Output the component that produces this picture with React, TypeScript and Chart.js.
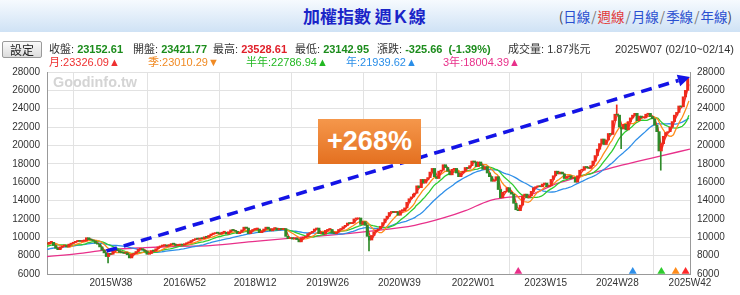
import React, { useEffect, useRef } from "react";
import { Chart, registerables } from "chart.js";

Chart.register(...registerables);

// ---- DATA: biweekly closes, entry j = ISO week 2j+1 of that year ----
const close2013 = [7800, 7850, 7900, 7950, 7950, 7950, 7900, 7700, 7950, 8200, 8250, 8050, 7800, 8000, 8150, 8100, 8050, 7950, 8150, 8200, 8350, 8400, 8200, 8300, 8300, 8450];
const close2014 = [8600, 8600, 8450, 8500, 8650, 8700, 8850, 8900, 8800, 8950, 9000, 9100, 9200, 9400, 9500, 9350, 9250, 9450, 9450, 9100, 8800, 8650, 8950, 9050, 9100, 8950];
const close2015 = [9250, 9350, 9450, 9550, 9650, 9550, 9600, 9600, 9950, 9750, 9700, 9600, 9350, 9250, 8950, 8600, 8300, 7900, 8250, 8150, 8500, 8600, 8550, 8350, 8300, 8250, 8300];
const close2016 = [8100, 7750, 8150, 8250, 8450, 8700, 8750, 8600, 8450, 8150, 8250, 8550, 8500, 8750, 8950, 9050, 9100, 9100, 9050, 9200, 9300, 9250, 9100, 9150, 9250, 9150];
const close2017 = [9300, 9400, 9450, 9650, 9750, 9850, 9800, 9900, 9850, 10050, 10000, 10200, 10350, 10400, 10500, 10450, 10350, 10550, 10550, 10350, 10600, 10800, 10750, 10650, 10400, 10550];
const close2018 = [10800, 11100, 11000, 10400, 10700, 10850, 10900, 10900, 10500, 10650, 10900, 11100, 10900, 10700, 10950, 11000, 10800, 10950, 10850, 10950, 10100, 9850, 9950, 9800, 9900, 9750];
const close2019 = [9500, 9900, 10000, 10100, 10400, 10500, 10650, 10900, 11000, 10400, 10550, 10350, 10750, 10850, 10850, 10450, 10400, 10550, 10850, 10900, 11150, 11300, 11550, 11500, 11550, 12000];
const close2020 = [12000, 12100, 11400, 11700, 11300, 10100, 9700, 10200, 10600, 10800, 10900, 11200, 11600, 12000, 12300, 12700, 12800, 12700, 12800, 12400, 12900, 12900, 13200, 13800, 14200, 14400, 14700];
const close2021 = [14800, 15600, 15400, 16300, 15900, 16300, 16500, 17100, 17500, 16600, 16400, 17200, 17300, 17900, 17600, 17200, 16800, 17400, 17500, 17000, 16600, 17000, 17200, 17600, 17500, 17800];
const close2022 = [18300, 18200, 17700, 18200, 17800, 17400, 17700, 17000, 16600, 16100, 16200, 16600, 15200, 14300, 14900, 15000, 15400, 14900, 14700, 13700, 13000, 12900, 13500, 14500, 14700, 14300];
const close2023 = [14500, 15000, 15400, 15500, 15600, 15500, 15800, 15900, 15500, 15600, 16300, 16700, 17200, 16900, 17100, 16900, 16400, 16600, 16700, 16400, 16500, 16000, 16700, 17300, 17300, 17700];
const close2024 = [17600, 17500, 17800, 18300, 18900, 19600, 20200, 20700, 20100, 20600, 21300, 21200, 22700, 23400, 23300, 22000, 21800, 22300, 21700, 22600, 23000, 23300, 23500, 22700, 23200, 23000];
const close2025 = [23000, 23400, 23500, 23150, 22900, 22200, 21500, 19400, 20200, 21000, 21400, 21500, 22000, 22600, 23300, 23600, 24300, 24200, 25300, 26000, 27300];

const closeByYear: Array<[number, number[]]> = [
  [2013, close2013], [2014, close2014], [2015, close2015], [2016, close2016],
  [2017, close2017], [2018, close2018], [2019, close2019], [2020, close2020],
  [2021, close2021], [2022, close2022], [2023, close2023], [2024, close2024],
  [2025, close2025],
];

// notable weekly wicks
const spikeWeeks = ["2015W35", "2020W12", "2024W28", "2024W32", "2025W15"];
const spikeValues = [7203, 8523, 24416, 19662, 17306];

// 3-year moving average
const ma3yWeeks = ["2014W32", "2015W08", "2015W33", "2016W16", "2016W46", "2017W23", "2018W12", "2018W45", "2019W26", "2020W11", "2020W53", "2021W26", "2021W46", "2022W16", "2022W30", "2022W51", "2023W25", "2024W27", "2025W11", "2025W42"];
const ma3yValues = [7900, 8220, 8600, 8870, 9020, 9100, 9550, 9900, 10200, 10650, 11300, 12100, 12900, 14000, 14320, 14570, 15840, 17700, 18740, 19600];

const xTickLabels = ["2015W38", "2016W52", "2018W12", "2019W26", "2020W39", "2022W01", "2023W15", "2024W28", "2025W42"];
const firstWeek = "2014W32";
const lastWeek = "2025W42";
const maWindowWeeks = [4, 13, 26, 52, 156];

const arrowFromWeek = "2015W34";
const arrowFromValue = 8500;
const arrowToWeek = "2025W42";
const arrowToValue = 27450;

const statLabels = ["收盤:", "開盤:", "最高:", "最低:", "漲跌:", "成交量:"];
const statValues = ["23152.61", "23421.77", "23528.61", "23142.95", "-325.66", "1.87兆元"];
const changePct = "(-1.39%)";
const weekText = "2025W07 (02/10~02/14)";
const maNames = ["月", "季", "半年", "年", "3年"];
const maValues = ["23326.09", "23010.29", "22786.94", "21939.62", "18004.39"];
const maArrows = ["▲", "▼", "▲", "▲", "▲"];
const navItems = ["日線", "週線", "月線", "季線", "年線"];

// ---- styles / layout ----
const UP = "#ee2a1c";
const DOWN = "#2f8a2a";
const MA_COLORS = ["#ff2a2a", "#ff8c1a", "#2ecc2e", "#2f8fe8", "#e8308a"];
const MA_TEXT_COLORS = ["#ee3030", "#f08a24", "#22b822", "#2a8ee8", "#e8308a"];
const STAT_COLORS = ["#1c8c1c", "#1c8c1c", "#e0202a", "#1c8c1c", "#1c8c1c", "#333"];
const STAT_X = [49, 133, 213, 295, 377, 508];
const MA_X = [49, 148, 246, 346, 443];
const MARKER_Y = 6270;
const LATIN = '"Liberation Sans", Arial, "Noto Sans CJK TC", sans-serif';
const CJK = '"Noto Sans CJK TC", "Liberation Sans", sans-serif';

const weeksIn = (y: number) => (y === 2015 || y === 2020 ? 53 : 52);
function weekIndex(y: number, w: number) {
  let idx = w - 32;
  for (let k = 2014; k < y; k++) idx += weeksIn(k);
  for (let k = y; k < 2014; k++) idx -= weeksIn(k);
  return idx;
}
const parseWeek = (s: string) => {
  const [y, w] = s.split("W").map(Number);
  return weekIndex(y, w);
};

function buildSeries() {
  const pts: { x: number; c: number }[] = [];
  closeByYear.forEach(([y, arr]) => arr.forEach((c, j) => pts.push({ x: weekIndex(y, 2 * j + 1), c })));
  const candles: any[] = [];
  const colors: string[] = [];
  for (let i = 1; i < pts.length; i++) {
    candles.push({ x: pts[i].x, y: [pts[i - 1].c, pts[i].c] });
    colors.push(pts[i].c >= pts[i - 1].c ? UP : DOWN);
  }
  const ma = (n: number) => {
    const out: any[] = [];
    for (let i = n - 1; i < pts.length; i++) {
      let s = 0;
      for (let k = i - n + 1; k <= i; k++) s += pts[k].c;
      out.push({ x: pts[i].x, y: s / n });
    }
    return out;
  };
  const spikes: any[] = [];
  const spikeColors: string[] = [];
  spikeWeeks.forEach((w, i) => {
    const xi = parseWeek(w);
    let best = 1;
    for (let k = 1; k < pts.length; k++) if (Math.abs(pts[k].x - xi) < Math.abs(pts[best].x - xi)) best = k;
    spikes.push({ x: pts[best].x, y: [spikeValues[i], pts[best].c] });
    spikeColors.push(pts[best].c >= pts[best - 1].c ? UP : DOWN);
  });
  return { candles, colors, spikes, spikeColors, ma };
}

const arrowPlugin = {
  id: "bigArrow",
  afterDatasetsDraw(chart: any) {
    const { ctx, scales } = chart;
    const x0 = scales.x.getPixelForValue(parseWeek(arrowFromWeek));
    const y0 = scales.y.getPixelForValue(arrowFromValue);
    const x1 = scales.x.getPixelForValue(parseWeek(arrowToWeek));
    const y1 = scales.y.getPixelForValue(arrowToValue);
    const ang = Math.atan2(y1 - y0, x1 - x0);
    const head = 12;
    const xb = x1 - head * Math.cos(ang);
    const yb = y1 - head * Math.sin(ang);
    ctx.save();
    ctx.strokeStyle = "#1414e6";
    ctx.fillStyle = "#1414e6";
    ctx.lineWidth = 3.6;
    ctx.setLineDash([11, 7]);
    ctx.beginPath();
    ctx.moveTo(x0, y0);
    ctx.lineTo(xb, yb);
    ctx.stroke();
    ctx.setLineDash([]);
    ctx.beginPath();
    ctx.moveTo(x1, y1);
    ctx.lineTo(xb + 6 * Math.sin(ang), yb - 6 * Math.cos(ang));
    ctx.lineTo(xb - 6 * Math.sin(ang), yb + 6 * Math.cos(ang));
    ctx.closePath();
    ctx.fill();
    ctx.restore();
  },
};

export default function App() {
  const ref = useRef<HTMLCanvasElement>(null);
  useEffect(() => {
    const { candles, colors, spikes, spikeColors, ma } = buildSeries();
    const last = parseWeek(lastWeek);
    const tickFont = { family: LATIN, size: 10 };
    const lineDs = (data: any[], color: string, order: number) => ({
      type: "line",
      data,
      borderColor: color,
      borderWidth: 1.3,
      pointRadius: 0,
      fill: false,
      order,
    });
    const plainTick = (v: any) => String(v);
    const chart = new Chart(ref.current as HTMLCanvasElement, {
      type: "bar",
      data: {
        datasets: [
          { type: "bar", data: candles, backgroundColor: colors, barThickness: 2.4, minBarLength: 1, borderWidth: 0, order: 1 },
          { type: "bar", data: spikes, backgroundColor: spikeColors, barThickness: 1, borderWidth: 0, order: 1 },
          lineDs(ma(2), MA_COLORS[0], 2),
          lineDs(ma(7), MA_COLORS[1], 3),
          lineDs(ma(13), MA_COLORS[2], 4),
          lineDs(ma(26), MA_COLORS[3], 5),
          {
            ...lineDs(ma3yWeeks.map((w, i) => ({ x: parseWeek(w), y: ma3yValues[i] })), MA_COLORS[4], 6),
            cubicInterpolationMode: "monotone",
          },
          {
            type: "scatter",
            data: maWindowWeeks.map((w) => ({ x: last - w, y: MARKER_Y })),
            backgroundColor: MA_COLORS,
            pointStyle: "triangle",
            pointRadius: 4.6,
            borderWidth: 0,
            order: 0,
          },
        ] as any,
      },
      options: {
        responsive: false,
        animation: false,
        devicePixelRatio: 1,
        layout: { padding: { top: 72, left: 0, right: 0, bottom: 0 } },
        plugins: { legend: { display: false }, tooltip: { enabled: false } },
        scales: {
          x: {
            type: "linear",
            min: parseWeek(firstWeek),
            max: last,
            offset: false,
            afterFit: (s: any) => { s.height = 21; },
            afterBuildTicks: (s: any) => { s.ticks = xTickLabels.map((l) => ({ value: parseWeek(l) })); },
            ticks: {
              autoSkip: false,
              maxRotation: 0,
              padding: 3,
              font: tickFont,
              color: "#333",
              callback: (v: any) => xTickLabels.find((l) => parseWeek(l) === v) || "",
            },
            grid: { color: "#e2e2e2", drawTicks: false },
            border: { color: "#999" },
          },
          y: {
            type: "linear",
            position: "left",
            min: 6000,
            max: 28000,
            afterFit: (s: any) => { s.width = 47; },
            ticks: { stepSize: 2000, padding: 7, font: tickFont, color: "#333", callback: plainTick },
            grid: { color: "#e2e2e2", drawTicks: false },
            border: { color: "#999" },
          },
          y2: {
            type: "linear",
            position: "right",
            display: true,
            min: 6000,
            max: 28000,
            afterFit: (s: any) => { s.width = 50; },
            ticks: { stepSize: 2000, padding: 7, font: tickFont, color: "#333", callback: plainTick },
            grid: { drawOnChartArea: false, drawTicks: false },
            border: { color: "#999" },
          },
        },
      } as any,
      plugins: [arrowPlugin],
    });
    return () => chart.destroy();
  }, []);

  const abs = (style: any) => ({ position: "absolute" as const, whiteSpace: "nowrap" as const, ...style });

  return (
    <div style={{ position: "absolute", left: 0, top: 0, width: 740, height: 295, background: "#fff", overflow: "hidden", fontFamily: LATIN }}>
      <div style={abs({ left: 0, top: 0, width: 740, height: 32, background: "linear-gradient(#f6fafe, #cfe2f5)" })} />
      <div style={abs({ left: 303, top: 6, fontFamily: CJK, fontWeight: 700, fontSize: 17, lineHeight: "20px", color: "#1a24c8" })}>加權指數 週Ｋ線</div>
      <div style={abs({ right: 8, top: 7, fontFamily: CJK, fontSize: 13.5, lineHeight: "18px", color: "#445" })}>
        (
        {navItems.map((n, i) => (
          <span key={n}>
            {i > 0 ? <span style={{ color: "#777", margin: "0 1px" }}>/</span> : null}
            <span style={{ color: i === 1 ? "#e23a3a" : "#2a4fd0" }}>{n}</span>
          </span>
        ))}
        )
      </div>
      <canvas ref={ref} width={740} height={295} style={{ position: "absolute", left: 0, top: 0, width: 740, height: 295 }} />
      <div style={abs({ left: 2, top: 41, width: 38, height: 15, border: "1px solid #9a9a9a", borderRadius: 2, background: "linear-gradient(#fbfbfb, #dcdcdc)", fontFamily: CJK, fontSize: 12, lineHeight: "15px", textAlign: "center", color: "#222" })}>設定</div>
      {statLabels.map((l, i) => (
        <div key={l} style={abs({ left: STAT_X[i], top: 43, fontSize: 11, lineHeight: "13px", color: "#333" })}>
          {l + " "}
          <span style={{ color: STAT_COLORS[i], fontWeight: i < 5 ? 700 : 400 }}>{statValues[i]}</span>
          {i === 4 ? <span style={{ color: STAT_COLORS[i], fontWeight: 700, marginLeft: 6 }}>{changePct}</span> : null}
        </div>
      ))}
      <div style={abs({ left: 615, top: 43, fontSize: 11, lineHeight: "13px", color: "#333" })}>{weekText}</div>
      {maNames.map((n, i) => (
        <div key={n} style={abs({ left: MA_X[i], top: 56, fontSize: 11, lineHeight: "13px", color: MA_TEXT_COLORS[i] })}>
          {n}:{maValues[i]}{maArrows[i]}
        </div>
      ))}
      <div style={abs({ left: 53, top: 75, fontSize: 14.4, lineHeight: "15px", fontWeight: 700, color: "#d4d4d4" })}>Goodinfo.tw</div>
      <div style={abs({ left: 318, top: 119, width: 103, height: 45, background: "linear-gradient(#f5974b, #e47020)", color: "#fff", fontWeight: 700, fontSize: 27, lineHeight: "45px", textAlign: "center" })}>+268%</div>
    </div>
  );
}
